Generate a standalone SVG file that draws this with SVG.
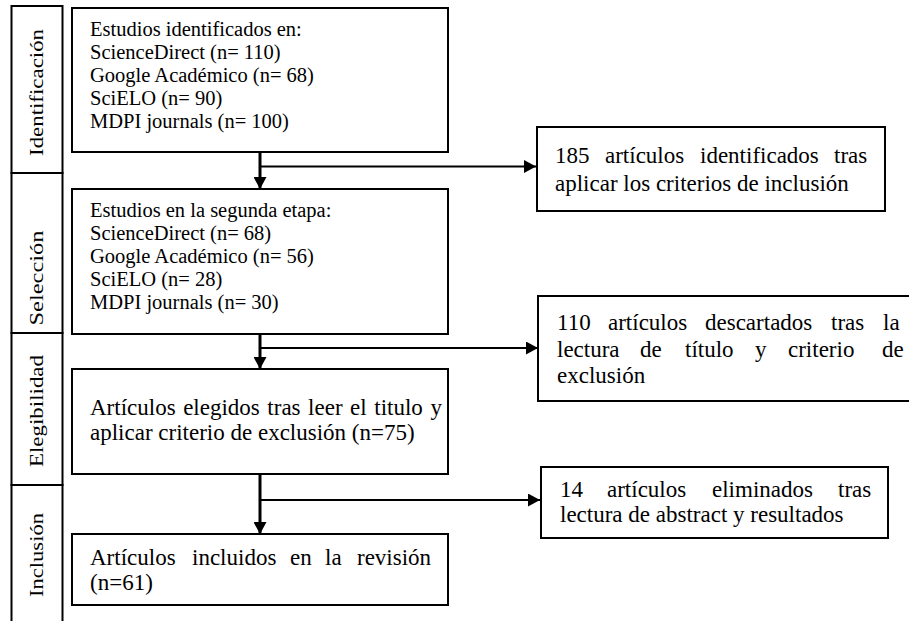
<svg xmlns="http://www.w3.org/2000/svg" width="909" height="621" viewBox="0 0 909 621">
<style>
  .box { fill: #ffffff; stroke: #000000; stroke-width: 2; }
  .lab { fill: none; stroke: #000000; stroke-width: 2; }
  .t { font-family: 'Liberation Serif', 'Times New Roman', Times, serif; fill: #000000; }
  .s { font-size: 20.5px; }
  .m { font-size: 23px; }
  .l { font-size: 18px; text-anchor: middle; }
  .v { stroke: #000000; stroke-width: 3; fill: none; }
  .h { stroke: #000000; stroke-width: 2; fill: none; }
</style>
<defs>
  <marker id="ah" viewBox="0 0 12 13" refX="12" refY="6.5" markerWidth="12" markerHeight="13" markerUnits="userSpaceOnUse" orient="auto">
    <path d="M0,0 L12,6.5 L0,13 Z" fill="#000000"/>
  </marker>
</defs>
<rect width="909" height="621" fill="#ffffff"/>

<g id="phase-labels">
  <g id="label-identificacion">
    <rect class="lab" x="11.5" y="6" width="51" height="167"/>
    <text class="t l" font-family="Liberation Serif, serif" transform="translate(43,92.5) rotate(-90)" textLength="127" lengthAdjust="spacingAndGlyphs">Identificación</text>
  </g>
  <g id="label-seleccion">
    <rect class="lab" x="11.5" y="173" width="51" height="160"/>
    <text class="t l" transform="translate(43,278) rotate(-90)" textLength="95" lengthAdjust="spacingAndGlyphs">Selección</text>
  </g>
  <g id="label-elegibilidad">
    <rect class="lab" x="11.5" y="333" width="51" height="152"/>
    <text class="t l" transform="translate(43,411) rotate(-90)" textLength="112" lengthAdjust="spacingAndGlyphs">Elegibilidad</text>
  </g>
  <g id="label-inclusion">
    <rect class="lab" x="11.5" y="485" width="51" height="150"/>
    <text class="t l" transform="translate(43,555) rotate(-90)" textLength="84" lengthAdjust="spacingAndGlyphs">Inclusión</text>
  </g>
</g>

<g id="connectors">
  <line class="v" x1="260" y1="152" x2="260" y2="189" marker-end="url(#ah)"/>
  <line class="h" x1="260" y1="166.5" x2="536" y2="166.5" marker-end="url(#ah)"/>
  <line class="v" x1="260" y1="334" x2="260" y2="369" marker-end="url(#ah)"/>
  <line class="h" x1="260" y1="348" x2="538" y2="348" marker-end="url(#ah)"/>
  <line class="v" x1="260" y1="474" x2="260" y2="534" marker-end="url(#ah)"/>
  <line class="h" x1="260" y1="500" x2="540" y2="500" marker-end="url(#ah)"/>
</g>

<g id="node-identificados">
  <rect class="box" x="72" y="8" width="376" height="144"/>
  <text class="t s" x="90" y="35.5">Estudios identificados en:</text>
  <text class="t s" x="90" y="58.5">ScienceDirect (n= 110)</text>
  <text class="t s" x="90" y="81.5">Google Académico (n= 68)</text>
  <text class="t s" x="90" y="104.5">SciELO (n= 90)</text>
  <text class="t s" x="90" y="127.5">MDPI journals (n= 100)</text>
</g>

<g id="node-segunda-etapa">
  <rect class="box" x="72" y="189" width="376" height="145"/>
  <text class="t s" x="90" y="217">Estudios en la segunda etapa:</text>
  <text class="t s" x="90" y="240">ScienceDirect (n= 68)</text>
  <text class="t s" x="90" y="263">Google Académico (n= 56)</text>
  <text class="t s" x="90" y="286">SciELO (n= 28)</text>
  <text class="t s" x="90" y="309">MDPI journals (n= 30)</text>
</g>

<g id="node-elegidos">
  <rect class="box" x="72" y="369" width="376" height="105"/>
  <text class="t m" x="90" y="415" word-spacing="1.8">Artículos elegidos tras leer el titulo y</text>
  <text class="t m" x="90" y="440">aplicar criterio de exclusión (n=75)</text>
</g>

<g id="node-incluidos">
  <rect class="box" x="72" y="534" width="376" height="71"/>
  <text class="t m" y="565"><tspan x="90">Artículos</tspan><tspan x="192">incluidos</tspan><tspan x="290">en</tspan><tspan x="325">la</tspan><tspan x="357">revisión</tspan></text>
  <text class="t m" x="90" y="590">(n=61)</text>
</g>

<g id="node-185">
  <rect class="box" x="537" y="127" width="348" height="84"/>
  <text class="t m" y="163"><tspan x="555">185</tspan><tspan x="605">artículos</tspan><tspan x="700">identificados</tspan><tspan x="834">tras</tspan></text>
  <text class="t m" x="555" y="191">aplicar los criterios de inclusión</text>
</g>

<g id="node-110">
  <rect class="box" x="538" y="296" width="380" height="105"/>
  <text class="t m" y="330"><tspan x="557">110</tspan><tspan x="608">artículos</tspan><tspan x="705">descartados</tspan><tspan x="831">tras</tspan><tspan x="883">la</tspan></text>
  <text class="t m" y="357"><tspan x="557">lectura</tspan><tspan x="640">de</tspan><tspan x="685">título</tspan><tspan x="755">y</tspan><tspan x="788">criterio</tspan><tspan x="882">de</tspan></text>
  <text class="t m" x="557" y="383">exclusión</text>
</g>

<g id="node-14">
  <rect class="box" x="541" y="467" width="347" height="71"/>
  <text class="t m" y="497"><tspan x="560">14</tspan><tspan x="607">artículos</tspan><tspan x="712">eliminados</tspan><tspan x="838">tras</tspan></text>
  <text class="t m" x="560" y="522">lectura de abstract y resultados</text>
</g>
</svg>
